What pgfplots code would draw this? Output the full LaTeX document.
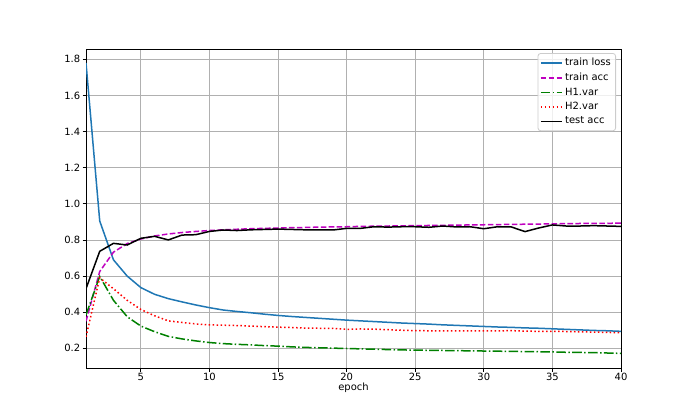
\documentclass[border=0pt]{standalone}
\usepackage{fontspec}
\setmainfont{DejaVu Sans}
\usepackage{pgfplots}
\pgfplotsset{compat=1.18}
\usepackage{pgfplotstable}
\definecolor{mplblue}{HTML}{1F77B4}
\definecolor{mplmag}{HTML}{BF00BF}
\definecolor{mplgreen}{HTML}{008000}
\definecolor{gridc}{HTML}{B0B0B0}
\definecolor{legc}{HTML}{CCCCCC}
\pgfplotstableread{
ep loss tacc hone htwo test
1 1.78 0.35 0.385 0.264 0.53
2 0.905 0.625 0.598 0.59 0.737
3 0.69 0.732 0.466 0.53 0.781
4 0.60 0.78 0.375 0.466 0.772
5 0.536 0.805 0.323 0.415 0.809
6 0.499 0.822 0.292 0.38 0.82
7 0.475 0.833 0.266 0.352 0.80
8 0.457 0.841 0.252 0.343 0.827
9 0.44 0.847 0.241 0.335 0.829
10 0.425 0.852 0.232 0.330 0.847
11 0.412 0.856 0.226 0.328 0.855
12 0.404 0.859 0.222 0.326 0.852
13 0.397 0.862 0.219 0.323 0.856
14 0.389 0.864 0.215 0.320 0.858
15 0.382 0.866 0.212 0.317 0.86
16 0.376 0.868 0.208 0.315 0.858
17 0.371 0.869 0.205 0.312 0.856
18 0.366 0.871 0.203 0.311 0.855
19 0.361 0.872 0.201 0.310 0.855
20 0.356 0.873 0.199 0.305 0.864
21 0.352 0.875 0.197 0.307 0.864
22 0.348 0.876 0.195 0.306 0.873
23 0.344 0.877 0.193 0.303 0.871
24 0.340 0.878 0.191 0.300 0.873
25 0.337 0.879 0.190 0.298 0.873
26 0.334 0.880 0.189 0.297 0.870
27 0.330 0.881 0.188 0.297 0.877
28 0.327 0.882 0.187 0.296 0.872
29 0.324 0.883 0.186 0.297 0.873
30 0.321 0.884 0.185 0.297 0.862
31 0.318 0.885 0.184 0.296 0.873
32 0.316 0.886 0.183 0.298 0.872
33 0.313 0.887 0.182 0.295 0.846
34 0.311 0.888 0.181 0.294 0.866
35 0.308 0.889 0.180 0.294 0.883
36 0.305 0.890 0.178 0.293 0.877
37 0.302 0.891 0.177 0.291 0.877
38 0.299 0.891 0.176 0.290 0.879
39 0.297 0.892 0.174 0.288 0.877
40 0.294 0.893 0.172 0.286 0.875
}\datatable
\begin{document}
\begin{tikzpicture}
\path[use as bounding box] (0,0) rectangle (496.8bp,298.08bp);
\begin{axis}[
  at={(61.92bp,33.12bp)}, anchor=south west,
  scale only axis, width=385.2bp, height=229.68bp,
  xmin=1, xmax=40, ymin=0.091, ymax=1.857,
  xtick={5,10,...,40},
  ytick={0.2,0.4,...,1.8},
  yticklabel style={/pgf/number format/fixed,/pgf/number format/fixed zerofill,/pgf/number format/precision=1},
  /pgf/number format/assume math mode=true,
  grid=major,
  major grid style={gridc, line width=0.58bp},
  axis line style={line width=0.58bp},
  tick style={black, line width=0.58bp},
  tick align=outside, major tick length=2.52bp,
  xtick pos=bottom, ytick pos=left,
  tick label style={font=\fontsize{7.2}{8.6}\selectfont},
  xticklabel style={inner sep=1bp},
  yticklabel style={inner sep=1.5bp},
  xlabel={epoch},
  xlabel style={font=\fontsize{7.2}{8.6}\selectfont, yshift=3bp},
  legend cell align=left,
  legend style={at={(rel axis cs:1,1)}, anchor=north east, xshift=-3.6bp, yshift=-2.9bp,
    draw=legc, line width=0.58bp, rounded corners=2bp, fill=white, fill opacity=0.8, text opacity=1,
    font=\fontsize{7.2}{8.6}\selectfont, row sep=-0.3bp, inner sep=1.5bp},
  legend image code/.code={\draw[#1, line width=1.08bp] plot coordinates {(0bp,0bp) (15bp,0bp)};},
  every axis plot/.append style={line width=1.08bp},
]
\addplot[mplblue] table[x=ep,y=loss]{\datatable};
\addlegendentry{train loss}
\addplot[mplmag, dash pattern=on 4bp off 1.73bp] table[x=ep,y=tacc]{\datatable};
\addlegendentry{train acc}
\addplot[mplgreen, dash pattern=on 6.9bp off 1.73bp on 1.08bp off 1.73bp] table[x=ep,y=hone]{\datatable};
\addlegendentry{H1.var}
\addplot[red, dash pattern=on 1.08bp off 1.78bp] table[x=ep,y=htwo]{\datatable};
\addlegendentry{H2.var}
\addplot[black] table[x=ep,y=test]{\datatable};
\addlegendentry{test acc}
\end{axis}
\end{tikzpicture}
\end{document}
